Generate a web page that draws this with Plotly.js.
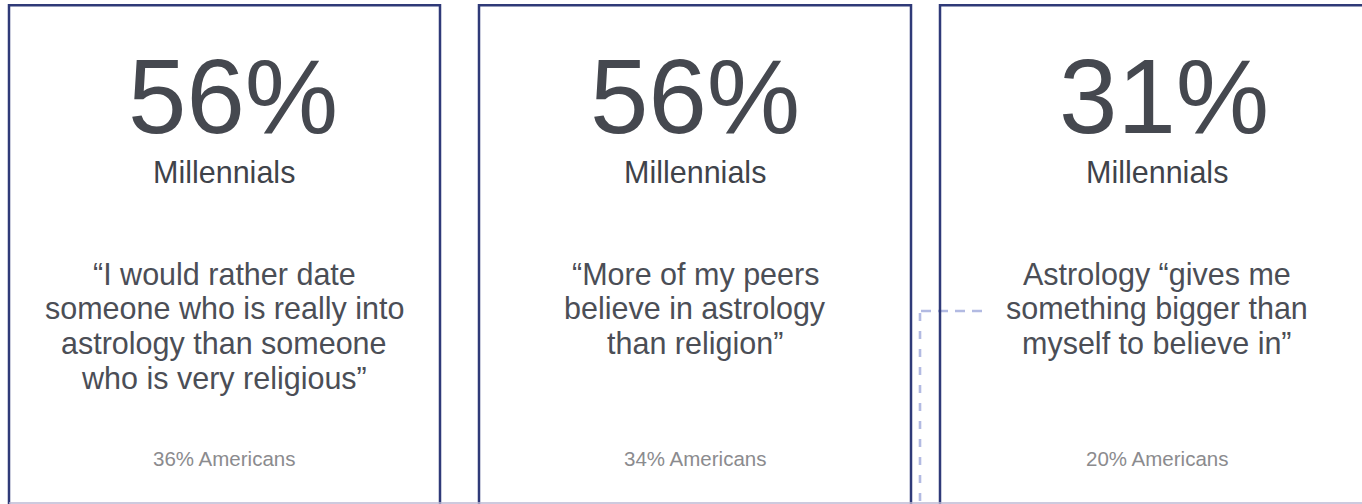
<!DOCTYPE html>
<html>
<head>
<meta charset="utf-8">
<script src="https://cdn.plot.ly/plotly-3.0.1.min.js"></script>
<style>html,body{margin:0;padding:0;background:#fff;}#chart{width:1362px;height:504px;}</style>
</head>
<body>
<div id="chart"></div>
<script>
// ---- data ----
const headlineValues = ["56%", "56%", "31%"];
const groupLabels = ["Millennials", "Millennials", "Millennials"];
const quoteLines = [
  ["\u201CI would rather date", "someone who is really into", "astrology than someone", "who is very religious\u201D"],
  ["\u201CMore of my peers", "believe in astrology", "than religion\u201D"],
  ["Astrology \u201Cgives me", "something bigger than", "myself to believe in\u201D"]
];
const americanLabels = ["36% Americans", "34% Americans", "20% Americans"];

// ---- layout geometry ----
const W = 1362, H = 504;
const boxes = [[9, 440], [479, 911], [940, 1374]];
const textCenters = [224, 695, 1157];
const headlineCenters = [233, 695, 1164];
const FONT = "Liberation Sans, Arial, sans-serif";

const shapes = [];
const annotations = [];

// dashed connector (below boxes)
shapes.push({type: "line", xref: "x", yref: "y", x0: 920, x1: 920, y0: 313, y1: 510,
  line: {color: "#b2bae2", width: 2.6, dash: "8px,10px"}, layer: "below"});
shapes.push({type: "line", xref: "x", yref: "y", x0: 921, x1: 982, y0: 311, y1: 311,
  line: {color: "#b2bae2", width: 2.6, dash: "10px,7px"}, layer: "below"});

boxes.forEach(function (b) {
  shapes.push({type: "rect", xref: "x", yref: "y", x0: b[0], x1: b[1], y0: 5.3, y1: 515,
    line: {color: "#2f3a78", width: 2.5}, fillcolor: "rgba(0,0,0,0)"});
});
// faint bottom edge
shapes.push({type: "line", xref: "x", yref: "y", x0: 9, x1: 1362, y0: 503, y1: 503,
  line: {color: "#bdb8d3", width: 1.5}});

headlineValues.forEach(function (v, i) {
  annotations.push({xref: "x", yref: "y", x: headlineCenters[i], y: 96, text: v, showarrow: false,
    xanchor: "center", yanchor: "middle", font: {family: FONT, size: 105, color: "#45484f"}});
  annotations.push({xref: "x", yref: "y", x: textCenters[i], y: 172, text: groupLabels[i], showarrow: false,
    xanchor: "center", yanchor: "middle", font: {family: FONT, size: 30.5, color: "#3f434a"}});
  quoteLines[i].forEach(function (line, j) {
    annotations.push({xref: "x", yref: "y", x: textCenters[i], y: 274 + j * 34.7, text: line, showarrow: false,
      xanchor: "center", yanchor: "middle", font: {family: FONT, size: 30.5, color: "#4b4e56"}});
  });
  annotations.push({xref: "x", yref: "y", x: textCenters[i], y: 458, text: americanLabels[i], showarrow: false,
    xanchor: "center", yanchor: "middle", font: {family: FONT, size: 20.5, color: "#8b8b8e"}});
});

const layout = {
  width: W, height: H,
  margin: {l: 0, r: 0, t: 0, b: 0, pad: 0},
  paper_bgcolor: "#ffffff", plot_bgcolor: "#ffffff",
  xaxis: {range: [0, W], visible: false, fixedrange: true},
  yaxis: {range: [H, 0], visible: false, fixedrange: true},
  showlegend: false,
  shapes: shapes,
  annotations: annotations
};

Plotly.newPlot("chart", [{x: [0], y: [0], mode: "markers", marker: {opacity: 0}, hoverinfo: "skip"}], layout,
  {displayModeBar: false, staticPlot: true});
</script>
</body>
</html>
